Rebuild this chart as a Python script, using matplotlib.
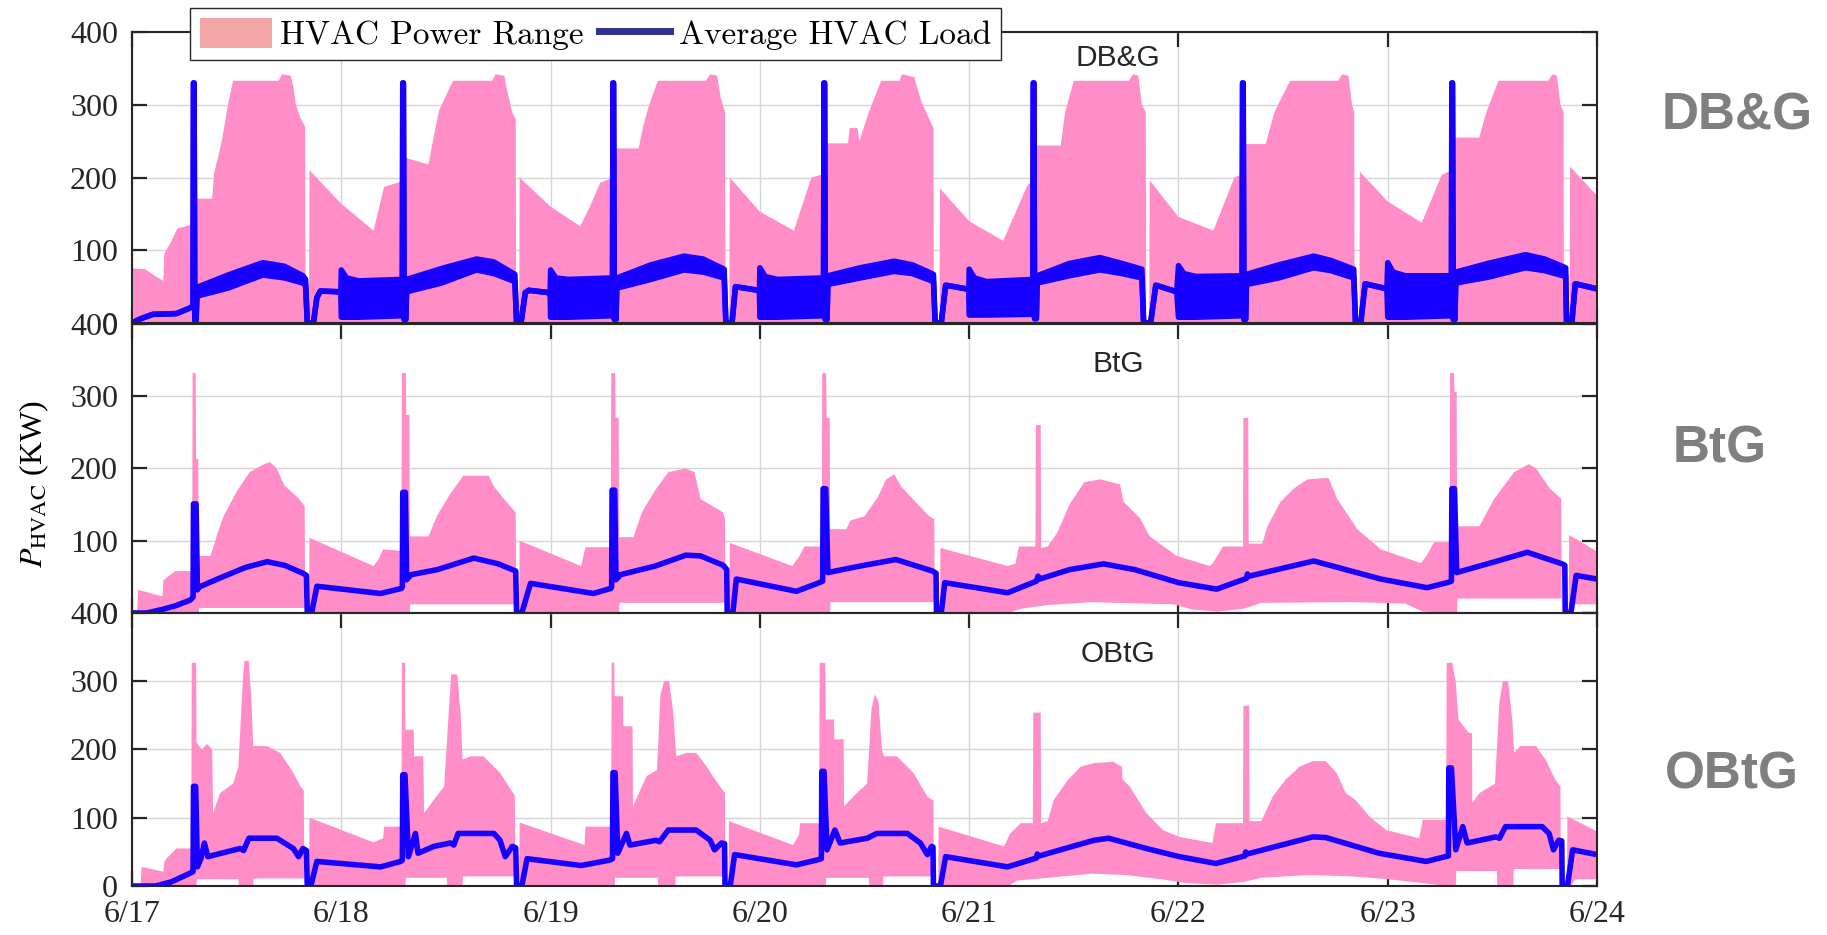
import numpy as np
import matplotlib
matplotlib.use("Agg")
import matplotlib.pyplot as plt
from matplotlib.patches import Patch
from matplotlib.lines import Line2D

# ==============================
# Data (hour since 6/17 00:00, kW)
# ==============================

day_labels = ["6/17", "6/18", "6/19", "6/20", "6/21", "6/22", "6/23", "6/24"]
panel_names = ["DB&G", "BtG", "OBtG"]

# DB&G: upper edge of power range (lower edge is 0)
dbg_upper = [
    (0.0, 75), (1.5, 74), (3.0, 62), (3.6, 58), (3.7, 95), (4.5, 112), (5.2, 130), (6.8, 135), (7.0, 150),
    (7.3, 171), (9.2, 171), (9.4, 205), (10.3, 250), (11.0, 300), (11.6, 333), (16.8, 333), (17.2, 342),
    (18.2, 340), (18.5, 325), (18.8, 300), (19.3, 282), (19.85, 270), (19.9, 0), (20.3, 0), (20.35, 210),
    (24.0, 164), (27.7, 127), (28.9, 187), (31.0, 195), (31.1, 228), (34.0, 218), (34.5, 250), (35.2, 292),
    (36.8, 333), (41.3, 333), (41.7, 342), (42.7, 340), (43.0, 320), (43.6, 290), (44.0, 280), (44.05, 0),
    (44.4, 0), (44.45, 200),
    (48.0, 160), (51.4, 133), (52.5, 160), (53.7, 193), (55.2, 200), (55.3, 240), (58.1, 240), (58.6, 270),
    (59.3, 300), (60.3, 333), (65.8, 333), (66.3, 342), (67.1, 340), (67.5, 310), (68.0, 290), (68.05, 0),
    (68.5, 0), (68.55, 200),
    (72.0, 153), (75.9, 127), (77.9, 200), (79.4, 205), (79.5, 247), (82.1, 247), (82.3, 268), (83.2, 268),
    (83.4, 250), (84.5, 290), (85.9, 333), (88.0, 333), (88.3, 342), (89.7, 338), (90.5, 305), (91.9, 268),
    (91.95, 0), (92.6, 0), (92.65, 185),
    (96.0, 140), (99.9, 113), (102.7, 190), (103.4, 195), (103.5, 244), (106.5, 244), (107.0, 290), (108.0, 333),
    (114.3, 333), (114.8, 342), (115.4, 340), (115.8, 300), (116.25, 290), (116.3, 0), (116.65, 0), (116.7, 196),
    (120.0, 146), (124.0, 127), (126.4, 200), (127.4, 205), (127.5, 246), (130.0, 246), (131.0, 290), (132.8, 333),
    (138.3, 333), (138.8, 342), (139.5, 340), (139.9, 300), (140.15, 290), (140.2, 0), (140.75, 0), (140.8, 208),
    (144.0, 167), (147.9, 138), (150.2, 204), (151.4, 210), (151.5, 255), (154.5, 255), (155.3, 290), (156.7, 333),
    (162.4, 333), (162.9, 342), (163.4, 340), (163.8, 300), (164.15, 290), (164.2, 0), (164.85, 0), (164.9, 215),
    (168.0, 175),
]

# DB&G average load: (hour, low edge, high edge) of the oscillating band
dbg_avg = [
    (0.0, 0, 0), (1.0, 6, 6), (2.4, 12, 12), (5.1, 13, 13), (6.7, 21, 21), (7.0, 24, 24), (7.05, 330, 330),
    (7.12, 330, 330), (7.2, 4, 4), (7.35, 4, 4), (7.45, 37, 49), (11.0, 48, 66), (15.0, 66, 83), (17.5, 62, 78),
    (19.6, 55, 65), (19.9, 52, 60), (20.1, 0, 0), (20.8, 0, 0), (21.2, 35, 35), (21.6, 44, 44), (23.7, 43, 43),
    (23.95, 40, 40),
    (24.0, 8, 73), (24.6, 8, 62), (26.0, 8, 58), (30.8, 10, 60), (31.0, 12, 60), (31.05, 330, 330),
    (31.12, 330, 330), (31.2, 5, 5), (31.4, 5, 5), (31.5, 43, 60), (35.5, 55, 75), (39.5, 73, 88), (41.5, 68, 84),
    (43.9, 57, 67), (44.1, 0, 0), (44.6, 0, 0), (45.1, 42, 42), (45.5, 45, 45), (47.7, 42, 42), (47.95, 40, 40),
    (48.0, 8, 73), (48.6, 8, 62), (50.0, 8, 60), (55.0, 10, 62), (55.1, 12, 62), (55.15, 330, 330),
    (55.22, 330, 330), (55.3, 5, 5), (55.5, 5, 5), (55.6, 48, 62), (59.5, 60, 80), (63.3, 73, 92), (65.5, 70, 88),
    (67.9, 62, 74), (68.1, 0, 0), (68.8, 0, 0), (69.2, 50, 50), (71.8, 45, 45), (71.95, 42, 42),
    (72.0, 8, 76), (72.6, 8, 64), (74.0, 8, 60), (79.2, 10, 62), (79.3, 12, 62), (79.35, 330, 330),
    (79.42, 330, 330), (79.5, 5, 5), (79.7, 5, 5), (79.8, 53, 65), (83.5, 62, 76), (87.4, 71, 85), (89.5, 68, 80),
    (91.9, 57, 67), (92.1, 0, 0), (92.8, 0, 0), (93.3, 52, 52), (95.7, 47, 47), (95.95, 44, 44),
    (96.0, 11, 74), (96.6, 11, 62), (98.0, 11, 57), (103.2, 12, 60), (103.3, 14, 60), (103.35, 330, 330),
    (103.42, 330, 330), (103.5, 6, 6), (103.7, 6, 6), (103.8, 55, 65), (107.5, 65, 82), (111.0, 73, 90),
    (113.5, 68, 82), (115.8, 62, 74), (116.0, 0, 0), (116.8, 0, 0), (117.4, 52, 52), (119.8, 43, 43),
    (120.0, 8, 79), (120.6, 8, 68), (122.0, 8, 64), (127.2, 10, 65), (127.3, 12, 65), (127.35, 330, 330),
    (127.42, 330, 330), (127.5, 5, 5), (127.7, 5, 5), (127.8, 53, 67), (131.5, 62, 80), (135.5, 76, 92),
    (137.5, 72, 86), (140.1, 62, 74), (140.3, 0, 0), (140.9, 0, 0), (141.4, 54, 54), (143.9, 47, 47),
    (144.0, 8, 83), (144.6, 8, 70), (146.0, 8, 65), (151.2, 10, 65), (151.3, 12, 65), (151.35, 330, 330),
    (151.42, 330, 330), (151.5, 5, 5), (151.7, 5, 5), (151.8, 55, 70), (155.5, 63, 82), (159.8, 76, 94),
    (162.0, 72, 88), (164.4, 64, 76), (164.5, 0, 0), (165.1, 0, 0), (165.5, 54, 54), (168.0, 47, 47),
]

# BtG
btg_upper = [
    (0.0, 0), (0.6, 0), (0.7, 32), (3.5, 23), (3.6, 45), (4.2, 51), (5.0, 58), (6.9, 58), (6.95, 332), (7.3, 332),
    (7.35, 213), (7.6, 213), (7.65, 79), (9.0, 79), (9.8, 110), (10.5, 134), (12.0, 168), (13.5, 195),
    (15.0, 205), (15.8, 209), (16.6, 200), (17.5, 176), (19.0, 160), (19.8, 148), (19.85, 0), (20.3, 0),
    (20.35, 104),
    (27.7, 65), (28.3, 75), (28.8, 88), (30.9, 86), (30.95, 332), (31.4, 332), (31.45, 274), (31.8, 274),
    (31.85, 106), (34.0, 106), (35.0, 135), (36.5, 165), (38.0, 190), (40.9, 190), (41.5, 175), (42.5, 160),
    (44.0, 139), (44.05, 0), (44.4, 0), (44.45, 100),
    (51.5, 65), (52.0, 91), (54.9, 91), (54.95, 332), (55.4, 332), (55.45, 270), (55.8, 270), (55.85, 105),
    (57.5, 105), (58.5, 140), (60.0, 170), (61.5, 195), (63.5, 200), (64.5, 195), (65.2, 158), (67.8, 139),
    (68.0, 130), (68.05, 0), (68.5, 0), (68.55, 97),
    (75.7, 65), (76.5, 78), (77.1, 92), (79.1, 92), (79.15, 332), (79.6, 332), (79.65, 270), (80.0, 270),
    (80.05, 116), (81.9, 116), (82.4, 128), (84.0, 134), (85.5, 160), (86.5, 185), (87.4, 192), (88.2, 175),
    (89.2, 162), (91.4, 134), (92.0, 130), (92.05, 0), (92.65, 0), (92.7, 90),
    (100.4, 65), (101.3, 68), (101.7, 92), (103.6, 92), (103.65, 260), (104.2, 260), (104.25, 90), (105.0, 92),
    (106.1, 111), (107.5, 150), (109.2, 181), (111.0, 185), (113.3, 178), (113.7, 154), (115.6, 131),
    (116.7, 106), (119.8, 79),
    (123.6, 65), (124.0, 70), (125.1, 92), (127.4, 92), (127.45, 270), (128.0, 270), (128.05, 96), (129.6, 96),
    (130.2, 120), (131.7, 154), (133.2, 172), (134.8, 185), (137.2, 187), (138.2, 158), (140.5, 116),
    (143.2, 88),
    (147.8, 69), (148.5, 80), (149.3, 98), (151.1, 98), (151.15, 332), (151.6, 332), (151.65, 306), (151.9, 306),
    (151.95, 120), (154.5, 120), (156.2, 158), (158.5, 195), (160.2, 206), (161.0, 200), (162.6, 172),
    (163.9, 158), (163.95, 0), (164.75, 0), (164.8, 108), (168.0, 85),
]
btg_lower = [
    (0.0, 0), (7.65, 0), (7.7, 7), (19.8, 7), (19.85, 0),
    (31.85, 0), (31.9, 12), (44.0, 12), (44.05, 0),
    (55.85, 0), (55.9, 14), (68.0, 14), (68.05, 0),
    (80.05, 0), (80.1, 15), (92.0, 15), (92.05, 0),
    (100.5, 0), (102.0, 6), (105.0, 11), (110.0, 15), (116.0, 13), (119.5, 12), (121.5, 5), (124.5, 2),
    (127.5, 6), (129.5, 14), (140.0, 15), (146.0, 13), (148.0, 2), (151.95, 0), (152.0, 20), (163.9, 20),
    (163.95, 0), (165.0, 0), (165.5, 12), (168.0, 12),
]
btg_avg = [
    (0.0, 0), (1.7, 0), (3.5, 5), (5.0, 10), (6.7, 18), (7.0, 22), (7.05, 151), (7.35, 151), (7.5, 32),
    (7.7, 36), (10.0, 48), (13.0, 63), (15.5, 71), (17.5, 66), (19.6, 55), (20.0, 52), (20.1, 0), (20.6, 0),
    (21.2, 37),
    (28.5, 27), (30.9, 34), (31.0, 36), (31.05, 167), (31.35, 167), (31.5, 46), (32.0, 53), (35.0, 60),
    (39.2, 76), (42.0, 68), (44.0, 58), (44.1, 0), (44.7, 0), (45.7, 41),
    (52.9, 27), (54.9, 34), (55.0, 36), (55.05, 170), (55.35, 170), (55.5, 46), (56.0, 53), (60.0, 65),
    (63.5, 80), (65.2, 79), (67.8, 66), (68.2, 60), (68.25, 0), (68.9, 0), (69.3, 47),
    (76.2, 30), (78.8, 42), (79.2, 44), (79.25, 172), (79.55, 172), (79.8, 56), (83.5, 65), (87.6, 74),
    (91.8, 58), (92.2, 55), (92.25, 0), (92.8, 0), (93.2, 42),
    (100.4, 28), (103.7, 44), (103.9, 51), (104.1, 47), (107.5, 60), (111.4, 68), (115.0, 60), (120.0, 42),
    (124.4, 33), (127.8, 48), (127.9, 54), (128.1, 51), (135.5, 72), (143.2, 47), (148.5, 35), (150.8, 42),
    (151.3, 44), (151.35, 172), (151.65, 172), (151.9, 56), (156.0, 70), (160.0, 84), (164.0, 68), (164.3, 66),
    (164.35, 0), (165.0, 0), (165.6, 52), (168.0, 47),
]

# OBtG
obtg_upper = [
    (0.0, 0), (1.0, 0), (1.1, 28), (3.6, 21), (3.7, 35), (4.0, 41), (5.1, 55), (6.8, 55), (6.85, 327),
    (7.35, 327), (7.4, 210), (8.0, 200), (8.6, 208), (9.2, 200), (9.3, 107), (10.1, 136), (11.6, 150),
    (12.2, 175), (12.7, 300), (12.9, 330), (13.4, 330), (13.7, 270), (13.9, 205), (14.3, 205), (15.5, 205),
    (17.0, 195), (18.5, 166), (19.3, 146), (19.7, 140), (19.75, 0), (20.3, 0), (20.35, 100),
    (27.7, 64), (28.8, 70), (28.9, 87), (30.9, 87), (30.95, 327), (31.3, 327), (31.35, 229), (32.3, 229),
    (32.35, 190), (33.4, 190), (33.5, 107), (34.6, 126), (35.8, 146), (36.3, 250), (36.6, 310), (37.3, 310),
    (37.7, 250), (37.9, 185), (38.8, 190), (40.3, 190), (42.2, 166), (43.7, 136), (43.9, 133), (43.95, 0),
    (44.4, 0), (44.45, 93),
    (51.9, 60), (52.0, 87), (54.95, 87), (55.0, 327), (55.3, 327), (55.35, 278), (56.3, 278), (56.35, 234),
    (57.4, 234), (57.45, 117), (59.0, 161), (60.2, 170), (60.6, 280), (61.0, 300), (61.6, 300), (62.1, 250),
    (62.4, 190), (63.6, 195), (64.7, 195), (65.9, 175), (66.6, 161), (67.8, 139), (68.0, 137), (68.05, 0),
    (68.4, 0), (68.45, 95),
    (75.8, 60), (76.5, 75), (76.6, 92), (78.8, 92), (78.85, 327), (79.5, 327), (79.55, 244), (80.5, 244),
    (80.55, 215), (81.6, 215), (81.65, 117), (83.1, 136), (84.3, 150), (84.8, 260), (85.2, 281), (85.6, 270),
    (86.0, 200), (86.2, 190), (87.7, 190), (89.6, 166), (91.2, 131), (91.9, 125), (91.95, 0), (92.45, 0),
    (92.5, 87),
    (100.0, 58), (100.7, 77), (101.9, 92), (103.3, 92), (103.35, 254), (104.2, 254), (104.25, 92), (105.0, 95),
    (105.7, 126), (107.3, 155), (108.8, 175), (110.3, 180), (112.5, 182), (113.5, 175), (113.6, 156),
    (114.4, 146), (116.3, 107), (118.2, 82), (120.1, 72), (123.9, 63),
    (124.3, 92), (127.4, 92), (127.45, 264), (128.1, 264), (128.15, 95), (129.5, 95), (130.8, 131), (132.3, 156),
    (133.9, 175), (135.4, 183), (136.9, 183), (138.1, 166), (139.2, 136), (140.3, 126), (141.9, 102),
    (143.8, 82), (147.6, 70),
    (148.0, 97), (150.7, 97), (150.75, 327), (151.4, 327), (151.8, 298), (152.1, 244), (153.3, 224),
    (153.65, 224), (153.7, 122), (154.5, 136), (156.3, 150), (156.8, 270), (157.2, 300), (157.8, 300),
    (158.3, 240), (158.5, 195), (159.2, 205), (161.0, 205), (162.1, 185), (163.2, 156), (163.8, 146),
    (163.85, 0), (164.55, 0), (164.6, 102), (168.0, 80),
]
obtg_lower = [
    (0.0, 0), (7.4, 0), (7.45, 10), (12.2, 10), (12.25, 0), (13.9, 0), (13.95, 11), (19.7, 11), (19.75, 0),
    (31.35, 0), (31.4, 12), (36.1, 12), (36.15, 0), (37.9, 0), (37.95, 14), (43.9, 14), (43.95, 0),
    (55.35, 0), (55.4, 12), (60.3, 12), (60.35, 0), (62.3, 0), (62.35, 14), (68.0, 14), (68.05, 0),
    (79.55, 0), (79.6, 12), (84.5, 12), (84.55, 0), (86.1, 0), (86.15, 14), (91.9, 14), (91.95, 0),
    (100.5, 0), (101.5, 8), (105.0, 12), (110.0, 18), (114.0, 16), (118.0, 10), (121.0, 4), (124.5, 2),
    (127.5, 6), (129.5, 12), (135.0, 16), (140.0, 14), (144.0, 10), (147.5, 5), (150.75, 0),
    (151.8, 0), (151.85, 22), (156.5, 22), (156.55, 0), (158.4, 0), (158.45, 25), (163.8, 25), (163.85, 0),
    (165.0, 0), (165.5, 10), (168.0, 10),
]
obtg_avg = [
    (0.0, 0), (2.7, 0), (4.5, 6), (6.7, 19), (7.0, 21), (7.05, 146), (7.3, 146), (7.5, 28), (7.9, 40),
    (8.3, 63), (8.7, 43), (9.3, 45), (12.4, 55), (12.8, 52), (13.4, 70), (16.6, 70), (18.5, 55), (19.1, 43),
    (19.6, 55), (20.0, 52), (20.1, 0), (20.5, 0), (21.2, 36),
    (28.5, 28), (30.8, 36), (31.0, 38), (31.05, 163), (31.3, 163), (31.7, 43), (32.5, 77), (32.8, 48),
    (34.6, 58), (36.5, 63), (36.9, 60), (37.4, 77), (41.5, 77), (42.2, 67), (42.8, 43), (43.6, 58), (44.0, 56),
    (44.1, 0), (44.7, 0), (45.3, 40),
    (51.5, 30), (54.8, 38), (55.1, 40), (55.15, 166), (55.4, 166), (55.7, 48), (56.7, 77), (57.1, 60),
    (60.1, 67), (60.5, 65), (61.5, 82), (64.7, 82), (66.3, 67), (66.8, 53), (67.6, 63), (67.95, 62), (68.0, 0),
    (68.6, 0), (69.1, 46),
    (76.2, 31), (78.5, 38), (79.05, 40), (79.1, 168), (79.35, 168), (79.7, 53), (80.6, 82), (81.2, 63),
    (84.3, 70), (85.4, 77), (88.9, 77), (90.4, 63), (91.2, 46), (91.7, 58), (91.85, 57), (91.9, 0), (92.7, 0),
    (93.3, 43),
    (100.4, 28), (103.7, 41), (103.8, 47), (104.0, 44), (110.3, 67), (112.0, 70), (116.3, 55), (120.1, 43),
    (124.3, 33), (127.6, 44), (127.7, 50), (127.9, 47), (135.4, 72), (136.9, 71), (143.0, 48), (148.4, 36),
    (150.6, 43), (150.95, 44), (151.0, 173), (151.3, 173), (151.8, 53), (152.6, 87), (153.1, 63), (156.4, 72),
    (156.8, 70), (157.5, 87), (161.7, 87), (162.5, 77), (163.0, 53), (163.6, 67), (163.95, 66), (164.0, 0),
    (164.6, 0), (165.2, 53), (168.0, 46),
]

# ==============================
# Plot
# ==============================
plt.rcParams["font.family"] = "Liberation Serif"
plt.rcParams["mathtext.fontset"] = "stix"

fill_color = "#ff8dc7"
line_color = "#1800ff"
line_w = 4.0

fig = plt.figure(figsize=(18.27, 9.35), dpi=100)
boxes = [
    [0.07225, 0.6545, 0.8019, 0.3112],
    [0.07225, 0.3444, 0.8019, 0.3091],
    [0.07225, 0.0524, 0.8019, 0.2920],
]
title_y = [0.912, 0.862, 0.85]
side_pos = [(1737, 116), (1720, 449), (1732, 775)]

panel_data = [
    (dbg_upper, None, None),
    (btg_upper, btg_lower, btg_avg),
    (obtg_upper, obtg_lower, obtg_avg),
]

for i, (upper, lower, avg) in enumerate(panel_data):
    ax = fig.add_axes(boxes[i])
    t_up, v_up = np.array(upper, dtype=float).T
    if lower is None:
        xs = np.r_[t_up, t_up[-1], t_up[0]]
        ys = np.r_[v_up, 0, 0]
    else:
        t_lo, v_lo = np.array(lower, dtype=float).T
        xs = np.r_[t_up, t_lo[::-1]]
        ys = np.r_[v_up, v_lo[::-1]]
    ax.fill(xs / 24, ys, color=fill_color, lw=0, zorder=1)

    if avg is None:
        # DB&G average is a thick oscillating band
        t_a, lo_a, hi_a = np.array(dbg_avg, dtype=float).T
        ax.fill_between(t_a / 24, lo_a, hi_a, color=line_color, lw=0, zorder=2)
        for edge in (lo_a, hi_a):
            ax.plot(t_a / 24, edge, color=line_color, lw=line_w,
                    solid_capstyle="round", solid_joinstyle="round", zorder=2)
    else:
        t_a, v_a = np.array(avg, dtype=float).T
        ax.plot(t_a / 24, v_a, color=line_color, lw=line_w,
                solid_capstyle="round", solid_joinstyle="round", zorder=2)

    ax.set_xlim(0, 7)
    ax.set_ylim(0, 400)
    ax.set_xticks(range(8))
    ax.set_yticks(range(0, 401, 100))
    ax.set_axisbelow(True)
    ax.grid(True, color="#d6d6d6", lw=1.0)
    ax.tick_params(direction="in", length=11, width=1.6, top=True, right=True,
                   labelsize=23, pad=10, colors="#262626")
    for sp in ax.spines.values():
        sp.set_linewidth(1.5)
        sp.set_color("#262626")
    if i < 2:
        ax.tick_params(labelbottom=False)
    else:
        ax.set_xticklabels(day_labels)

    ax.text(0.673, title_y[i], panel_names[i], transform=ax.transAxes, ha="center", va="center",
            family="Liberation Sans", size=21.5, color="#262626")
    fig.text(side_pos[i][0] / 1827, 1 - side_pos[i][1] / 935, panel_names[i], ha="center", va="center",
             family="Liberation Sans", weight="bold", size=37, color="#7f7f7f")

fig.text(0.019, 0.482, r"$P_{\mathrm{HVAC}}$ (KW)", rotation=90, ha="center", va="center", size=23)

handles = [Patch(facecolor="#f4a6a6", edgecolor="none"),
           Line2D([], [], color="#2e3192", lw=5)]
leg = fig.legend(handles, ["HVAC Power Range", "Average HVAC Load"], loc="center",
                 bbox_to_anchor=(0.326, 0.9636), ncol=2, prop={"family": "cmr10", "size": 24},
                 frameon=True, fancybox=False, framealpha=1, edgecolor="#262626",
                 handlelength=2.15, handleheight=1.0, handletextpad=0.25, columnspacing=0.45,
                 borderpad=0.3, borderaxespad=0)
leg.get_frame().set_linewidth(1.0)

fig.savefig("out.png", dpi=100)
